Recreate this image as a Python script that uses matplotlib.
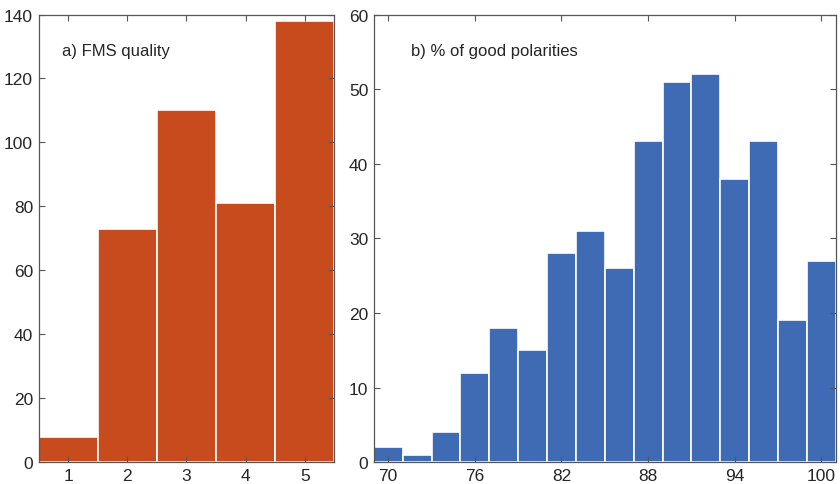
import matplotlib.pyplot as plt

plt.rcParams['font.family'] = ['Liberation Sans', 'DejaVu Sans']

# panel a) FMS quality
quality = [1, 2, 3, 4, 5]
quality_counts = [8, 73, 110, 81, 138]

# panel b) % of good polarities (bin centres, width 2)
polar_bins = [70, 72, 74, 76, 78, 80, 82, 84, 86, 88, 90, 92, 94, 96, 98, 100]
polar_counts = [2, 1, 4, 12, 18, 15, 28, 31, 26, 43, 51, 52, 38, 43, 19, 27]
polar_ticks = [70, 76, 82, 88, 94, 100]

orange = '#C84B1E'
blue = '#3E6BB4'
txt = '#262626'

fig = plt.figure(figsize=(8.4, 4.85), dpi=100)
ax1 = fig.add_axes([0.046, 0.045, 0.352, 0.923])
ax2 = fig.add_axes([0.445, 0.045, 0.550, 0.923])

ax1.bar(quality, quality_counts, width=1.0, color=orange, edgecolor='white', linewidth=1.2)
ax1.set_xlim(0.5, 5.5)
ax1.set_ylim(0, 140)
ax1.set_xticks(quality)
ax1.set_yticks(range(0, 141, 20))
ax1.text(0.08, 0.92, 'a) FMS quality', transform=ax1.transAxes, fontsize=12, color=txt, va='center')

ax2.bar(polar_bins, polar_counts, width=2.0, color=blue, edgecolor='white', linewidth=1.2)
ax2.set_xlim(69, 101)
ax2.set_ylim(0, 60)
ax2.set_xticks(polar_ticks)
ax2.set_yticks(range(0, 61, 10))
ax2.text(0.08, 0.92, 'b) % of good polarities', transform=ax2.transAxes, fontsize=12, color=txt, va='center')

for ax in (ax1, ax2):
    ax.tick_params(direction='in', top=True, right=True, length=4, width=0.8,
                   colors='#555555', labelcolor=txt, labelsize=12.5, pad=4)
    for s in ax.spines.values():
        s.set_color('#555555')
        s.set_linewidth(0.9)

fig.savefig('out.png', dpi=100)
